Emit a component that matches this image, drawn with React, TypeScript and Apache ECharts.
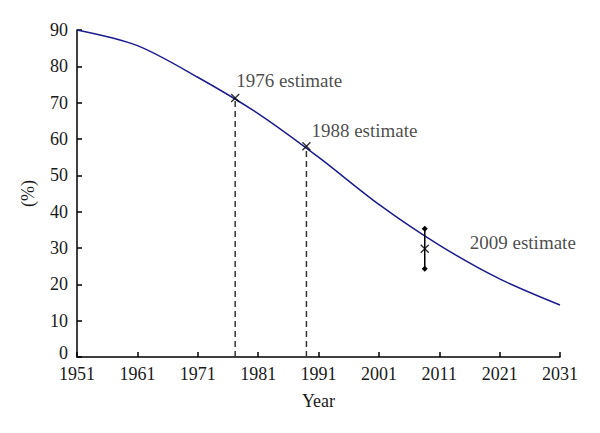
import React, { useEffect, useRef } from "react";
import * as echarts from "echarts";

// ---- data ----
const curveYears = [1951, 1961, 1971, 1981, 1991, 2001, 2011, 2021, 2031];
const curveValues = [90, 85.7, 77, 67, 55, 42, 30.8, 21.5, 14.3];

const estimateLabels = ["1976 estimate", "1988 estimate", "2009 estimate"];
const estimateYears = [1977.2, 1989, 2008.6];
const estimateValues = [71.3, 58, 29.8];

// 2009 estimate range (error bar)
const rangeLow = 24.3;
const rangeHigh = 35.3;

const xTickStart = 1951;
const xTickEnd = 2031;
const yMax = 90;

// ---- style / placement (not data) ----
const labelOffsets: [number, number][] = [
  [1, -17],
  [5, -16],
  [45, -6],
];
const FONT = "Liberation Serif";
const TXT = "#1a1a1a";

const toX = (year: number) => year - xTickStart;

export default function App() {
  const ref = useRef<HTMLDivElement>(null);

  useEffect(() => {
    if (!ref.current) return;
    const chart = echarts.init(ref.current, undefined, { renderer: "svg" });

    const dashedSeries = [0, 1].map((i) => ({
      type: "line",
      data: [
        [toX(estimateYears[i]), 0],
        [toX(estimateYears[i]), estimateValues[i]],
      ],
      symbol: "none",
      lineStyle: { color: "#333", width: 1.5, type: [6, 4] },
      silent: true,
      z: 1,
    }));

    const option = {
      animation: false,
      grid: { left: 77, right: 40, top: 30, bottom: 76, containLabel: false },
      xAxis: {
        type: "value",
        min: 0,
        max: toX(xTickEnd),
        interval: 10,
        name: "Year",
        nameLocation: "middle",
        nameGap: 35,
        nameTextStyle: { fontFamily: FONT, fontSize: 18, color: TXT },
        axisLine: { lineStyle: { color: "#000", width: 1.5 } },
        axisTick: { inside: true, length: 5, lineStyle: { color: "#000", width: 1.5 } },
        axisLabel: {
          fontFamily: FONT,
          fontSize: 18,
          lineHeight: 14,
          color: TXT,
          margin: 10,
          formatter: (v: number) => String(v + xTickStart),
        },
        splitLine: { show: false },
      },
      yAxis: {
        type: "value",
        min: 0,
        max: yMax,
        interval: 10,
        name: "(%)",
        nameLocation: "middle",
        nameGap: 40,
        nameRotate: 90,
        nameTextStyle: { fontFamily: FONT, fontSize: 18, color: TXT },
        axisLine: { show: true, lineStyle: { color: "#000", width: 1.5 } },
        axisTick: { show: true, inside: true, length: 5, lineStyle: { color: "#000", width: 1.5 } },
        axisLabel: {
          fontFamily: FONT,
          fontSize: 18,
          lineHeight: 14,
          color: TXT,
          margin: 9,
          formatter: (v: number) => (v === 0 ? "{z|0}" : String(v)),
          rich: { z: { fontFamily: FONT, fontSize: 18, lineHeight: 14, color: TXT, padding: [0, 0, 8, 0] } },
        },
        splitLine: { show: false },
      },
      series: [
        ...dashedSeries,
        {
          type: "line",
          data: curveYears.map((y, i) => [toX(y), curveValues[i]]),
          symbol: "none",
          smooth: 0.3,
          lineStyle: { color: "#1c1c8f", width: 1.5 },
          z: 2,
        },
        {
          type: "line",
          data: [
            [toX(estimateYears[2]), rangeLow],
            [toX(estimateYears[2]), rangeHigh],
          ],
          symbol: "diamond",
          symbolSize: 6,
          itemStyle: { color: "#000" },
          lineStyle: { color: "#000", width: 1.5 },
          z: 3,
        },
        {
          type: "scatter",
          symbol: "path://M0,0L10,10M10,0L0,10",
          symbolSize: 8,
          itemStyle: { color: "none", borderColor: "#000", borderWidth: 1.4 },
          data: estimateYears.map((y, i) => ({
            value: [toX(y), estimateValues[i]],
            name: estimateLabels[i],
            label: {
              show: true,
              position: "inside",
              align: "left",
              verticalAlign: "middle",
              offset: labelOffsets[i],
              formatter: estimateLabels[i],
              fontFamily: FONT,
              fontSize: 19,
              color: TXT,
            },
          })),
          z: 4,
        },
      ],
    };

    chart.setOption(option as any);
    return () => chart.dispose();
  }, []);

  return <div ref={ref} style={{ width: 600, height: 433, position: "absolute", left: 0, top: 0, background: "#fff" }} />;
}
